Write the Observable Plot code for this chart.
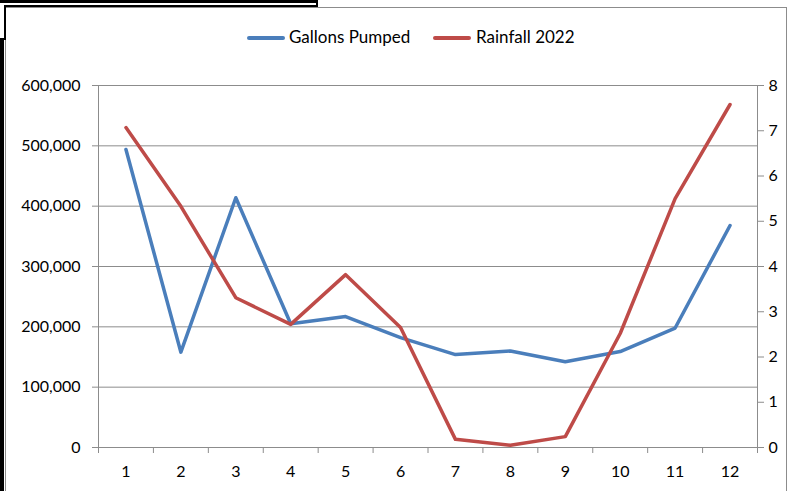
<!DOCTYPE html>
<html>
<head>
<meta charset="utf-8">
<script src="https://cdn.jsdelivr.net/npm/d3@7"></script>
<script src="https://cdn.jsdelivr.net/npm/@observablehq/plot@0.6"></script>
<style>
  html, body { margin: 0; padding: 0; background: #fff; }
  #wrap { position: relative; width: 789px; height: 491px; overflow: hidden; font-family: Lato, "Noto Sans", sans-serif; }
  .blk { position: absolute; background: #000; }
  #frame { position: absolute; left: 5px; top: 7px; width: 782px; height: 500px; border: 1.5px solid #8c8c8c; box-sizing: border-box; }
  #legend { position: absolute; top: 27px; left: 0; width: 789px; height: 20px; font-size: 17px; color: #000; }
  .sw { position: absolute; height: 4px; top: 9px; border-radius: 2px; }
  .lt { position: absolute; top: 0; line-height: 20px; white-space: nowrap; }
  svg { position: absolute; left: 0; top: 0; }
</style>
</head>
<body>
<div id="wrap">
  <div id="frame"></div>
  <div class="blk" style="left:0;top:0;width:318px;height:2.5px"></div>
  <div class="blk" style="left:4px;top:5px;width:314px;height:2px"></div>
  <div class="blk" style="left:316px;top:0;width:2px;height:7px"></div>
  <div class="blk" style="left:4px;top:5px;width:2px;height:35px"></div>
  <div class="blk" style="left:0;top:38px;width:4px;height:453px"></div>
  <div id="legend"></div>
</div>
<script>
const months = [1, 2, 3, 4, 5, 6, 7, 8, 9, 10, 11, 12];
const gallons = [494000, 158000, 414000, 205000, 217000, 182000, 154000, 160000, 142000, 159000, 198000, 368000];
const rainfall = [7.07, 5.33, 3.31, 2.72, 3.82, 2.65, 0.18, 0.05, 0.24, 2.52, 5.50, 7.58];
const leftTicks = [0, 100000, 200000, 300000, 400000, 500000, 600000];
const rightTicks = [0, 1, 2, 3, 4, 5, 6, 7, 8];
const seriesNames = ["Gallons Pumped", "Rainfall 2022"];
const colors = ["#4A7EBB", "#BE4B48"];

const factor = 600000 / 8;
const table = months.map((m, i) => ({month: m, gallons: gallons[i], rain: rainfall[i] * factor}));
const boundaries = months.map(m => m - 0.5).concat([months[months.length - 1] + 0.5]);
const gray = "#8c8c8c";

const chart = Plot.plot({
  width: 789,
  height: 491,
  marginLeft: 98,
  marginRight: 32,
  marginTop: 85,
  marginBottom: 44,
  style: {fontFamily: "Lato, 'Noto Sans', sans-serif", fontSize: "16px", color: "#000", background: "transparent", overflow: "visible"},
  x: {domain: [0.5, 12.5]},
  y: {domain: [0, 600000]},
  marks: [
    Plot.gridY(leftTicks.slice(1), {stroke: gray, strokeOpacity: 1, strokeWidth: 1}),
    Plot.ruleX([0.5, 12.5], {stroke: gray, strokeWidth: 1}),
    Plot.ruleY([0], {stroke: gray, strokeWidth: 1}),
    Plot.axisY(leftTicks, {anchor: "left", tickSize: 6, tickPadding: 12, tickFormat: d3.format(","), stroke: gray, fill: "#000", fontSize: 16, label: null}),
    Plot.axisY(rightTicks.map(d => d * factor), {anchor: "right", tickSize: 6, tickPadding: 5, tickFormat: d => String(Math.round(d / factor)), stroke: gray, fill: "#000", fontSize: 16, label: null}),
    Plot.axisX(boundaries, {anchor: "bottom", tickSize: 6, tickFormat: () => "", stroke: gray, label: null}),
    Plot.axisX(months, {anchor: "bottom", tickSize: 0, tickPadding: 18, fill: "#000", fontSize: 16, label: null}),
    Plot.line(table, {x: "month", y: "gallons", stroke: colors[0], strokeWidth: 3.5, strokeLinejoin: "round", strokeLinecap: "round"}),
    Plot.line(table, {x: "month", y: "rain", stroke: colors[1], strokeWidth: 3.5, strokeLinejoin: "round", strokeLinecap: "round"})
  ]
});
document.getElementById("wrap").appendChild(chart);

const legend = document.getElementById("legend");
const legendPos = [{sw: 247, tx: 289}, {sw: 433, tx: 476}];
seriesNames.forEach((name, i) => {
  const s = document.createElement("div");
  s.className = "sw";
  s.style.left = legendPos[i].sw + "px";
  s.style.width = "38px";
  s.style.background = colors[i];
  legend.appendChild(s);
  const t = document.createElement("div");
  t.className = "lt";
  t.style.left = legendPos[i].tx + "px";
  t.textContent = name;
  legend.appendChild(t);
});
</script>
</body>
</html>
